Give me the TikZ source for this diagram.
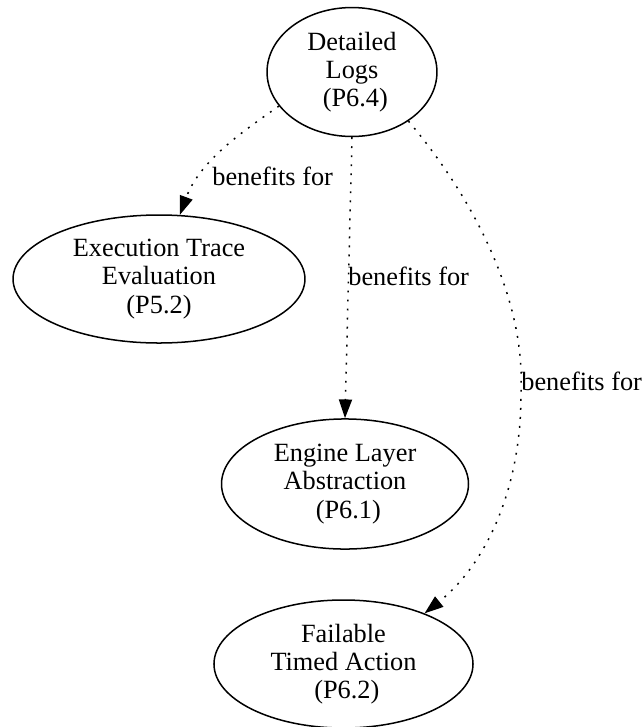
\documentclass[tikz,border=0pt]{standalone}
\usepackage{fontspec}
\setmainfont{Liberation Serif}
\usetikzlibrary{shapes.geometric,arrows.meta}

\tikzset{
  concept/.style={draw, ellipse, inner sep=0pt, align=center, line width=0.8pt,
    font=\fontsize{14}{15}\selectfont},
  benefit/.style={draw, line width=0.8pt, dash pattern=on 1pt off 3.8pt,
    -{Triangle[length=10pt,width=7pt]}},
  edgelabel/.style={inner sep=0pt, font=\fontsize{14}{15}\selectfont}
}

\begin{document}
\begin{tikzpicture}[x=0.532pt, y=-0.532pt]
  \useasboundingbox (0,0) rectangle (643,727);

  % concepts
  \node[concept, minimum width=90.4pt, minimum height=68.6pt] (logs) at (352,72)
    {Detailed\\Logs\\\ (P6.4)};
  \node[concept, minimum width=155.3pt, minimum height=68.1pt] (exec) at (159,279)
    {Execution Trace\\Evaluation\\(P5.2)};
  \node[concept, minimum width=131.4pt, minimum height=69.2pt] (engine) at (345,484)
    {Engine Layer\\Abstraction\\\ (P6.1)};
  \node[concept, minimum width=137.8pt, minimum height=68.1pt] (fail) at (343.5,664)
    {Failable\\Timed Action\\\ (P6.2)};

  % relations
  \draw[benefit] (logs.205) .. controls (245,130) and (200,160) .. (exec.72);
  \draw[benefit] (logs.south) -- (engine.north);
  \draw[benefit] (logs.-41) .. controls (475,200) and (525,300) .. (521,390)
                            .. controls (522,490) and (485,565) .. (fail.32);

  % relation labels
  \node[edgelabel, anchor=base west] (l1) at (212,185) {benefits for};
  \node[edgelabel, anchor=base west] (l2) at (348,285) {benefits for};
  \node[edgelabel, anchor=base west] (l3) at (521,390) {benefits for};
\end{tikzpicture}
\end{document}
